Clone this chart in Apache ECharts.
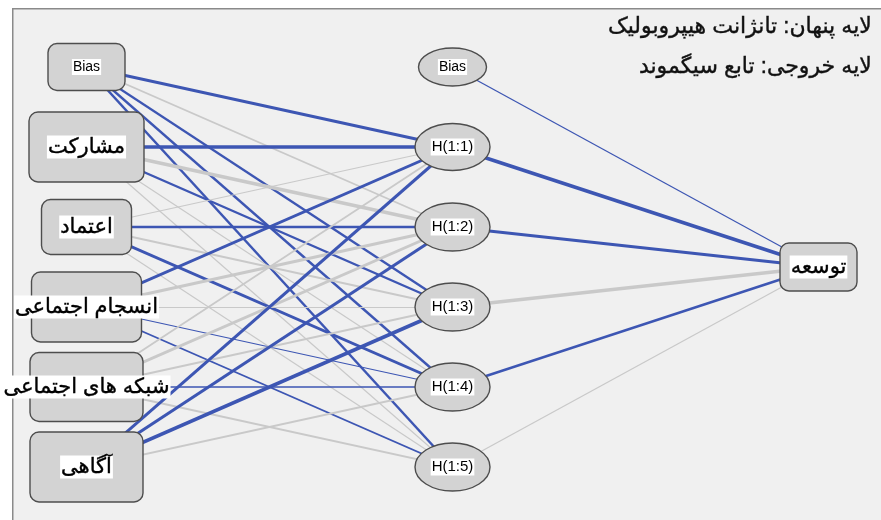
<!DOCTYPE html>
<html><head><meta charset="utf-8">
<script src="https://cdn.jsdelivr.net/npm/echarts@6/dist/echarts.min.js"></script>
<style>html,body{margin:0;padding:0;background:#fff}#c{width:881px;height:520px}</style>
</head><body><div id="c"></div><script>
// ---- data ----
const inputLabels = ['Bias', 'مشارکت', 'اعتماد', 'انسجام اجتماعی', 'شبکه های اجتماعی', 'آگاهی'];
const hiddenLabels = ['Bias', 'H(1:1)', 'H(1:2)', 'H(1:3)', 'H(1:4)', 'H(1:5)'];
const outputLabels = ['توسعه'];
const inputPos = [0, 1, 2, 3, 4, 5];
const hiddenPos = [0, 1, 2, 3, 4, 5];
const outputPos = [2.5];
// rows: input nodes (Bias..آگاهی), cols: H(1:1)..H(1:5); sign: negative = blue, positive = gray
const inputHiddenWeights = [
  [-2.5, 1.5, -2, -2, -2],
  [-3, 3, -2, 1, 1],
  [1, -2, 1.5, -2.5, 1],
  [-2.5, 2.5, 1, -1, -1.5],
  [1.5, 2.5, 1.5, -1.3, 1.5],
  [-2.5, -2.5, -3, 1.5, 1]
];
// hidden Bias, H(1:1)..H(1:5) -> output
const hiddenOutputWeights = [-1, -3, -2.5, 3, -2, 1];
const legendLines = ['لایه پنهان: تانژانت هیپروبولیک', 'لایه خروجی: تابع سیگموند'];

// ---- styles ----
const BLUE = '#3d56b3', GRAY = '#c9c9c9';
const WIDTH_SCALE = 1.2;
const inputSizes = [[77, 47], [115, 70], [90, 55], [110, 70], [113, 69], [113, 70]];
const hiddenSizes = [[68, 38], [75, 47], [75, 48], [75, 48], [75, 48], [75, 48]];
const outputSizes = [[77, 48]];
const FONT_AR = 'Arial, "DejaVu Sans", sans-serif';

const edges = [];
inputHiddenWeights.forEach((row, i) => row.forEach((w, j) => {
  edges.push({ coords: [[0, inputPos[i]], [1, hiddenPos[j + 1]]],
    lineStyle: { width: Math.abs(w) * WIDTH_SCALE, color: w < 0 ? BLUE : GRAY, opacity: 1 } });
}));
hiddenOutputWeights.forEach((w, j) => {
  edges.push({ coords: [[1, hiddenPos[j]], [2, outputPos[0]]],
    lineStyle: { width: Math.abs(w) * WIDTH_SCALE, color: w < 0 ? BLUE : GRAY, opacity: 1 } });
});

const nodes = [];
inputLabels.forEach((l, i) => nodes.push({ value: [0, inputPos[i]], name: l, kind: 'rect', size: inputSizes[i] }));
hiddenLabels.forEach((l, i) => nodes.push({ value: [1, hiddenPos[i]], name: l, kind: 'ell', size: hiddenSizes[i] }));
outputLabels.forEach((l, i) => nodes.push({ value: [2, outputPos[i]], name: l, kind: 'rect', size: outputSizes[i] }));

function isLatin(s) { return /^[A-Za-z0-9():\s]+$/.test(s); }

const chart = echarts.init(document.getElementById('c'));
chart.setOption({
  animation: false,
  backgroundColor: '#ffffff',
  grid: { left: 86.5, right: 62.5, top: 67, bottom: 53 },
  xAxis: { type: 'value', min: 0, max: 2, show: false },
  yAxis: { type: 'value', min: 0, max: 5, inverse: true, show: false },
  graphic: [
    { type: 'rect', left: 12, top: 8, z: -10, shape: { width: 880, height: 520 },
      style: { fill: '#f0f0f0', stroke: '#8a8a8a', lineWidth: 1.5 } },
    { type: 'text', right: 9, top: 16, z: 10,
      style: { text: legendLines[0], fill: '#111', stroke: '#111', lineWidth: 0.4,
        font: '22px ' + FONT_AR, align: 'right' } },
    { type: 'text', right: 9, top: 56, z: 10,
      style: { text: legendLines[1], fill: '#111', stroke: '#111', lineWidth: 0.4,
        font: '22px ' + FONT_AR, align: 'right' } }
  ],
  series: [
    { type: 'lines', coordinateSystem: 'cartesian2d', z: 2, data: edges, silent: true },
    { type: 'custom', z: 5, data: nodes.map(n => ({ value: n.value, name: n.name })),
      renderItem: function (params, api) {
        const n = nodes[params.dataIndex];
        const p = api.coord(n.value);
        const w = n.size[0], h = n.size[1];
        const shape = n.kind === 'rect'
          ? { type: 'rect', shape: { x: p[0] - w / 2, y: p[1] - h / 2, width: w, height: h, r: 9 },
              style: { fill: '#d3d3d3', stroke: '#4d4d4d', lineWidth: 1.4 } }
          : { type: 'ellipse', shape: { cx: p[0], cy: p[1], rx: w / 2, ry: h / 2 },
              style: { fill: '#d3d3d3', stroke: '#4d4d4d', lineWidth: 1.4 } };
        const latin = isLatin(n.name);
        const font = latin ? ((n.name === 'Bias' ? 14 : 15) + 'px ' + FONT_AR) : ('21px ' + FONT_AR);
        const ts = { text: n.name, fill: '#000', font: font,
          align: 'center', verticalAlign: 'middle', backgroundColor: '#ffffff', padding: [1, 1] };
        if (!latin) { ts.stroke = '#000'; ts.lineWidth = 0.4; }
        return { type: 'group', children: [shape, { type: 'text', x: p[0], y: p[1], style: ts }] };
      } }
  ]
});
</script></body></html>
